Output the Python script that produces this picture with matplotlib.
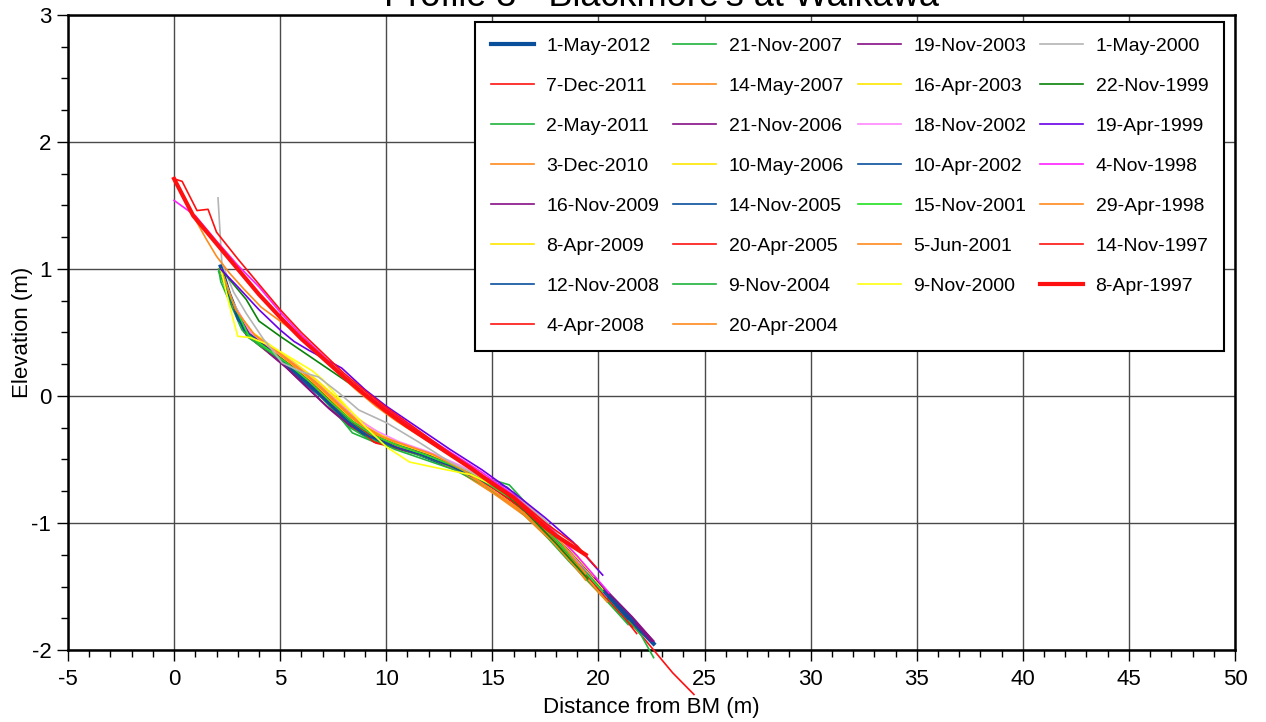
import numpy as np
import matplotlib
matplotlib.use('Agg')
from matplotlib import pyplot as plt
from matplotlib.ticker import MultipleLocator

plt.rcParams['font.family'] = ['Liberation Sans', 'DejaVu Sans']
plt.rcParams['axes.unicode_minus'] = False

# survey dates, newest first (legend order)
dates = ['1-May-2012', '7-Dec-2011', '2-May-2011', '3-Dec-2010', '16-Nov-2009',
         '8-Apr-2009', '12-Nov-2008', '4-Apr-2008', '21-Nov-2007', '14-May-2007',
         '21-Nov-2006', '10-May-2006', '14-Nov-2005', '20-Apr-2005', '9-Nov-2004',
         '20-Apr-2004', '19-Nov-2003', '16-Apr-2003', '18-Nov-2002', '10-Apr-2002',
         '15-Nov-2001', '5-Jun-2001', '9-Nov-2000', '1-May-2000', '22-Nov-1999',
         '19-Apr-1999', '4-Nov-1998', '29-Apr-1998', '14-Nov-1997', '8-Apr-1997']

# distance from BM (m) and elevation (m) for each survey
may2012_x = [2.2, 2.6, 3.2, 4.0, 5.0, 6.0, 7.0, 8.0, 9.0, 10.0, 11.0, 12.5, 14.0, 15.5, 17.0, 18.5, 20.0, 21.5, 22.6]
may2012_y = [1.02, 0.80, 0.55, 0.42, 0.30, 0.16, 0.02, -0.14, -0.28, -0.36, -0.42, -0.52, -0.62, -0.75, -0.98, -1.22, -1.50, -1.76, -1.95]

dec2011_x = [2.2, 2.7, 3.5, 4.5, 5.5, 6.5, 7.5, 8.5, 9.5, 10.5, 12.0, 13.5, 15.0, 16.5, 18.0, 19.5, 21.0, 22.5, 23.5, 24.5]
dec2011_y = [1.00, 0.75, 0.48, 0.36, 0.24, 0.10, -0.06, -0.22, -0.34, -0.40, -0.48, -0.58, -0.72, -0.90, -1.12, -1.40, -1.68, -1.98, -2.18, -2.35]

may2011_x = [2.1, 2.5, 3.3, 4.2, 5.2, 6.2, 7.2, 8.4, 9.4, 10.5, 12.0, 13.5, 15.0, 16.0, 17.5, 19.0, 20.5, 22.0, 22.6]
may2011_y = [0.98, 0.82, 0.50, 0.38, 0.26, 0.12, -0.04, -0.29, -0.36, -0.40, -0.48, -0.58, -0.70, -0.82, -1.06, -1.32, -1.60, -1.88, -2.06]

dec2010_x = [2.2, 2.8, 3.6, 4.5, 5.5, 6.5, 7.5, 8.5, 9.5, 10.5, 12.0, 13.5, 15.0, 16.5, 18.0, 19.4]
dec2010_y = [1.00, 0.72, 0.50, 0.38, 0.26, 0.12, -0.04, -0.20, -0.30, -0.38, -0.48, -0.60, -0.76, -0.92, -1.16, -1.45]

nov2009_x = [2.2, 2.6, 3.4, 4.3, 5.3, 6.3, 7.3, 8.3, 9.3, 10.3, 11.8, 13.3, 14.8, 16.3, 17.8, 19.3, 20.8, 22.5]
nov2009_y = [1.00, 0.78, 0.48, 0.36, 0.22, 0.06, -0.10, -0.24, -0.33, -0.40, -0.47, -0.57, -0.69, -0.86, -1.10, -1.36, -1.62, -1.93]

apr2009_x = [2.2, 2.7, 3.5, 4.5, 5.5, 6.5, 7.5, 8.5, 9.6, 10.8, 12.2, 13.6, 15.0, 16.4, 17.8, 19.2]
apr2009_y = [1.00, 0.76, 0.52, 0.40, 0.28, 0.15, 0.00, -0.17, -0.32, -0.40, -0.48, -0.58, -0.70, -0.86, -1.08, -1.32]

nov2008_x = [2.2, 2.5, 3.2, 4.1, 5.0, 6.0, 7.0, 8.0, 9.0, 10.2, 11.6, 13.0, 14.5, 16.0, 17.5, 19.0, 20.5, 22.0]
nov2008_y = [1.02, 0.84, 0.56, 0.42, 0.28, 0.12, -0.02, -0.18, -0.30, -0.38, -0.44, -0.54, -0.66, -0.82, -1.04, -1.30, -1.58, -1.86]

apr2008_x = [2.2, 2.7, 3.5, 4.4, 5.4, 6.4, 7.4, 8.5, 9.5, 10.5, 12.0, 13.5, 15.0, 16.5, 18.0, 19.5, 21.0, 21.8]
apr2008_y = [1.00, 0.74, 0.47, 0.35, 0.22, 0.08, -0.08, -0.26, -0.37, -0.41, -0.48, -0.58, -0.72, -0.90, -1.14, -1.42, -1.70, -1.87]

nov2007_x = [2.1, 2.2, 3.2, 4.0, 5.0, 6.0, 7.0, 8.2, 9.2, 10.4, 11.8, 13.2, 14.6, 15.8, 17.0, 18.5, 20.0, 21.5]
nov2007_y = [1.00, 0.90, 0.52, 0.40, 0.28, 0.14, -0.02, -0.24, -0.34, -0.41, -0.48, -0.56, -0.64, -0.70, -0.92, -1.24, -1.50, -1.80]

may2007_x = [2.2, 2.8, 3.7, 4.6, 5.6, 6.6, 7.6, 8.6, 9.6, 10.6, 12.0, 13.5, 15.0, 16.5, 18.0, 19.5, 21.0]
may2007_y = [1.00, 0.70, 0.48, 0.36, 0.24, 0.10, -0.05, -0.20, -0.30, -0.38, -0.47, -0.60, -0.76, -0.94, -1.18, -1.46, -1.72]

nov2006_x = [2.2, 2.6, 3.4, 4.2, 5.2, 6.2, 7.2, 8.2, 9.2, 10.2, 11.6, 13.0, 14.5, 16.0, 17.5, 19.0, 20.5, 22.6]
nov2006_y = [1.00, 0.80, 0.50, 0.38, 0.24, 0.08, -0.08, -0.22, -0.32, -0.40, -0.46, -0.55, -0.67, -0.82, -1.04, -1.30, -1.56, -1.93]

may2006_x = [2.2, 2.6, 3.4, 4.3, 5.3, 6.3, 7.3, 8.3, 9.3, 10.4, 11.8, 13.2, 14.6, 16.0, 17.4, 18.8, 20.2]
may2006_y = [1.00, 0.78, 0.52, 0.40, 0.27, 0.14, -0.02, -0.18, -0.30, -0.38, -0.45, -0.54, -0.66, -0.80, -1.00, -1.24, -1.52]

nov2005_x = [2.2, 2.4, 3.0, 3.9, 4.9, 5.9, 6.9, 7.9, 8.9, 10.0, 11.4, 12.8, 14.2, 15.7, 17.2, 18.7, 20.2, 21.7]
nov2005_y = [1.00, 0.88, 0.60, 0.44, 0.30, 0.15, 0.00, -0.16, -0.30, -0.38, -0.44, -0.52, -0.62, -0.72, -0.96, -1.22, -1.50, -1.78]

apr2005_x = [2.2, 2.7, 3.5, 4.5, 5.5, 6.5, 7.5, 8.5, 9.4, 10.4, 11.8, 13.2, 14.6, 16.0, 17.4, 18.8, 20.2, 21.6]
apr2005_y = [1.00, 0.76, 0.48, 0.36, 0.24, 0.10, -0.06, -0.22, -0.36, -0.40, -0.47, -0.56, -0.68, -0.82, -1.02, -1.28, -1.56, -1.82]

nov2004_x = [2.2, 2.6, 3.5, 4.4, 5.4, 6.4, 7.4, 8.4, 9.4, 10.4, 11.8, 13.2, 14.6, 16.0, 17.3, 18.6, 20.0, 21.4]
nov2004_y = [1.00, 0.78, 0.46, 0.36, 0.24, 0.10, -0.06, -0.22, -0.34, -0.42, -0.50, -0.58, -0.70, -0.86, -1.06, -1.30, -1.54, -1.80]

apr2004_x = [2.2, 2.8, 3.6, 4.6, 5.6, 6.6, 7.6, 8.6, 9.6, 10.6, 12.0, 13.4, 14.8, 16.2, 17.6, 19.0, 20.4]
apr2004_y = [1.00, 0.72, 0.50, 0.38, 0.25, 0.11, -0.04, -0.20, -0.32, -0.40, -0.48, -0.58, -0.72, -0.88, -1.08, -1.34, -1.62]

nov2003_x = [2.2, 2.7, 3.5, 4.4, 5.4, 6.4, 7.4, 8.4, 9.4, 10.4, 11.8, 13.2, 14.6, 16.0, 17.4, 18.8, 20.2, 21.6, 22.6]
nov2003_y = [1.00, 0.76, 0.50, 0.38, 0.25, 0.10, -0.06, -0.20, -0.31, -0.38, -0.45, -0.54, -0.66, -0.80, -1.00, -1.24, -1.50, -1.74, -1.93]

apr2003_x = [2.2, 2.8, 3.7, 4.7, 5.7, 6.7, 7.7, 8.7, 9.7, 10.7, 12.1, 13.5, 14.9, 16.3, 17.7, 19.1]
apr2003_y = [1.00, 0.70, 0.50, 0.38, 0.26, 0.13, -0.02, -0.18, -0.30, -0.38, -0.46, -0.56, -0.68, -0.82, -1.02, -1.28]

nov2002_x = [2.2, 2.7, 3.6, 4.6, 5.6, 6.6, 7.6, 8.6, 9.6, 10.6, 12.0, 13.4, 14.8, 16.2, 17.6, 19.0, 20.4]
nov2002_y = [1.00, 0.76, 0.50, 0.38, 0.26, 0.12, -0.03, -0.18, -0.28, -0.36, -0.44, -0.54, -0.66, -0.82, -1.04, -1.30, -1.58]

apr2002_x = [2.2, 2.5, 3.3, 4.2, 5.2, 6.2, 7.2, 8.2, 9.2, 10.2, 11.6, 13.0, 14.4, 15.8, 17.2, 18.6, 20.0, 21.4]
apr2002_y = [1.00, 0.82, 0.52, 0.40, 0.27, 0.12, -0.04, -0.20, -0.32, -0.39, -0.46, -0.55, -0.66, -0.78, -0.98, -1.24, -1.50, -1.76]

nov2001_x = [2.2, 2.7, 3.5, 4.4, 5.4, 6.4, 7.4, 8.4, 9.4, 10.4, 11.8, 13.2, 14.6, 16.0, 17.4, 18.8, 20.2]
nov2001_y = [1.00, 0.76, 0.48, 0.37, 0.25, 0.11, -0.05, -0.20, -0.31, -0.38, -0.46, -0.55, -0.67, -0.82, -1.02, -1.28, -1.54]

jun2001_x = [2.2, 2.9, 3.8, 4.8, 5.8, 6.8, 7.8, 8.8, 9.8, 10.8, 12.2, 13.6, 15.0, 16.4, 17.8, 19.4]
jun2001_y = [1.00, 0.68, 0.48, 0.36, 0.23, 0.09, -0.07, -0.22, -0.32, -0.38, -0.46, -0.58, -0.74, -0.92, -1.14, -1.44]

nov2000_x = [2.2, 2.6, 3.0, 3.6, 4.5, 5.5, 6.5, 7.0, 8.0, 9.0, 10.0, 11.1, 12.5, 14.0, 15.5, 17.0, 18.5, 19.8]
nov2000_y = [1.00, 0.72, 0.47, 0.46, 0.40, 0.30, 0.20, 0.13, -0.06, -0.24, -0.40, -0.52, -0.57, -0.62, -0.74, -0.94, -1.18, -1.42]

may2000_x = [2.07, 2.25, 2.8, 3.4, 4.2, 5.1, 6.0, 6.8, 7.8, 8.7, 10.0, 11.5, 13.0, 14.5, 16.0, 17.5, 19.0]
may2000_y = [1.56, 1.05, 0.82, 0.65, 0.45, 0.26, 0.19, 0.15, 0.02, -0.11, -0.21, -0.36, -0.52, -0.64, -0.76, -0.98, -1.26]

nov1999_x = [2.2, 2.8, 3.4, 4.0, 5.0, 6.5, 8.0, 10.0, 12.0, 14.0, 15.3, 16.5, 18.0, 19.5]
nov1999_y = [1.00, 0.88, 0.76, 0.59, 0.47, 0.30, 0.13, -0.11, -0.34, -0.57, -0.72, -0.90, -1.16, -1.44]

apr1999_x = [2.2, 3.0, 4.0, 5.0, 5.65, 6.35, 7.9, 9.0, 10.0, 11.5, 13.0, 14.5, 16.0, 17.5, 18.8, 20.2]
apr1999_y = [1.00, 0.86, 0.68, 0.52, 0.43, 0.36, 0.22, 0.05, -0.08, -0.25, -0.42, -0.58, -0.76, -0.96, -1.15, -1.41]

nov1998_x = [0.0, 1.0, 2.0, 3.0, 4.0, 5.0, 6.0, 7.0, 8.0, 9.0, 10.0, 11.5, 13.0, 14.5, 16.0, 17.5, 19.0, 20.5]
nov1998_y = [1.54, 1.42, 1.22, 1.03, 0.86, 0.66, 0.48, 0.32, 0.16, 0.02, -0.10, -0.28, -0.44, -0.60, -0.78, -1.00, -1.26, -1.55]

apr1998_x = [0.0, 0.5, 1.0, 1.5, 2.0, 2.6, 3.3, 4.1, 5.4, 6.5, 7.5, 8.5, 9.5, 10.5, 12.0, 13.5, 15.0, 16.5, 18.0, 19.4]
apr1998_y = [1.70, 1.56, 1.39, 1.24, 1.10, 0.97, 0.84, 0.70, 0.54, 0.38, 0.22, 0.06, -0.08, -0.20, -0.36, -0.52, -0.68, -0.88, -1.10, -1.40]

nov1997_x = [0.0, 0.38, 1.08, 1.6, 2.0, 3.0, 4.0, 5.0, 6.0, 7.0, 8.0, 9.0, 10.0, 11.5, 13.0, 14.5, 16.0, 17.5, 19.0, 19.9]
nov1997_y = [1.71, 1.69, 1.46, 1.47, 1.29, 1.08, 0.88, 0.68, 0.50, 0.34, 0.18, 0.04, -0.09, -0.27, -0.45, -0.62, -0.79, -1.00, -1.18, -1.35]

apr1997_x = [0.0, 0.9, 2.0, 3.0, 4.0, 5.0, 6.0, 7.0, 8.0, 9.0, 10.0, 11.0, 12.0, 13.0, 14.0, 15.0, 16.0, 17.0, 18.0, 19.4]
apr1997_y = [1.71, 1.42, 1.20, 1.00, 0.80, 0.62, 0.45, 0.30, 0.15, 0.01, -0.12, -0.24, -0.35, -0.46, -0.57, -0.69, -0.80, -0.96, -1.10, -1.25]

profiles = [(may2012_x, may2012_y), (dec2011_x, dec2011_y), (may2011_x, may2011_y),
            (dec2010_x, dec2010_y), (nov2009_x, nov2009_y), (apr2009_x, apr2009_y),
            (nov2008_x, nov2008_y), (apr2008_x, apr2008_y), (nov2007_x, nov2007_y),
            (may2007_x, may2007_y), (nov2006_x, nov2006_y), (may2006_x, may2006_y),
            (nov2005_x, nov2005_y), (apr2005_x, apr2005_y), (nov2004_x, nov2004_y),
            (apr2004_x, apr2004_y), (nov2003_x, nov2003_y), (apr2003_x, apr2003_y),
            (nov2002_x, nov2002_y), (apr2002_x, apr2002_y), (nov2001_x, nov2001_y),
            (jun2001_x, jun2001_y), (nov2000_x, nov2000_y), (may2000_x, may2000_y),
            (nov1999_x, nov1999_y), (apr1999_x, apr1999_y), (nov1998_x, nov1998_y),
            (apr1998_x, apr1998_y), (nov1997_x, nov1997_y), (apr1997_x, apr1997_y)]

# line colours cycle through the same palette, with a few odd ones
blue, red, green, orange = '#0a4f9c', '#ff1010', '#1fb33c', '#ff8a1c'
purple, yellow = '#860f86', '#ffe600'
colors = [blue, red, green, orange, purple, yellow, blue, red,
          green, orange, purple, yellow, blue, red, green, orange,
          purple, yellow, '#ff88ff', blue, '#22e022', orange, '#ffff10',
          '#b4b4b4', '#0a820a', '#6a00e8', '#ff20ff', orange, red, red]
widths = [1.2] * 30
widths[0] = 3.0
widths[-1] = 3.0

fig = plt.figure(figsize=(12.66, 7.22), dpi=100)
ax = fig.add_axes([68 / 1266, 1 - 650 / 722, 1167 / 1266, 635 / 722])

for (x, y), c, w, lab in zip(profiles, colors, widths, dates):
    ax.plot(x, y, color=c, lw=w, label=lab, clip_on=False, zorder=3)

ax.set_xlim(-5, 50)
ax.set_ylim(-2, 3)
ax.xaxis.set_major_locator(MultipleLocator(5))
ax.xaxis.set_minor_locator(MultipleLocator(1))
ax.yaxis.set_major_locator(MultipleLocator(1))
ax.yaxis.set_minor_locator(MultipleLocator(0.25))
ax.tick_params(which='major', direction='out', length=8, width=1.0, pad=6,
               labelsize=16, colors='black')
ax.tick_params(which='minor', direction='out', length=5, width=1.0)
ax.tick_params(axis='y', which='major', pad=4)
ax.grid(True, which='major', color='#4a4a4a', lw=1.0, zorder=0)
ax.set_axisbelow(True)
for s in ax.spines.values():
    s.set_linewidth(1.8)

ax.set_xlabel('Distance from BM (m)', fontsize=16, labelpad=5)
ax.set_ylabel('Elevation (m)', fontsize=16, labelpad=-1)

leg = ax.legend(ncol=4, loc='upper left', bbox_to_anchor=(0.349, 0.469, 0.6416, 0.52),
                mode='expand', fontsize=14, frameon=True, fancybox=False,
                edgecolor='black', framealpha=1, handlelength=2.2, handletextpad=0.65,
                labelspacing=1.15, borderpad=0.8, borderaxespad=0)
leg.get_frame().set_linewidth(1.5)
leg.set_zorder(5)

fig.text(662 / 1266, 1 - 6 / 722, "Profile 3 - Blackmore's at Waikawa",
         ha='center', va='baseline', fontsize=26)

fig.savefig('out.png', dpi=100)
